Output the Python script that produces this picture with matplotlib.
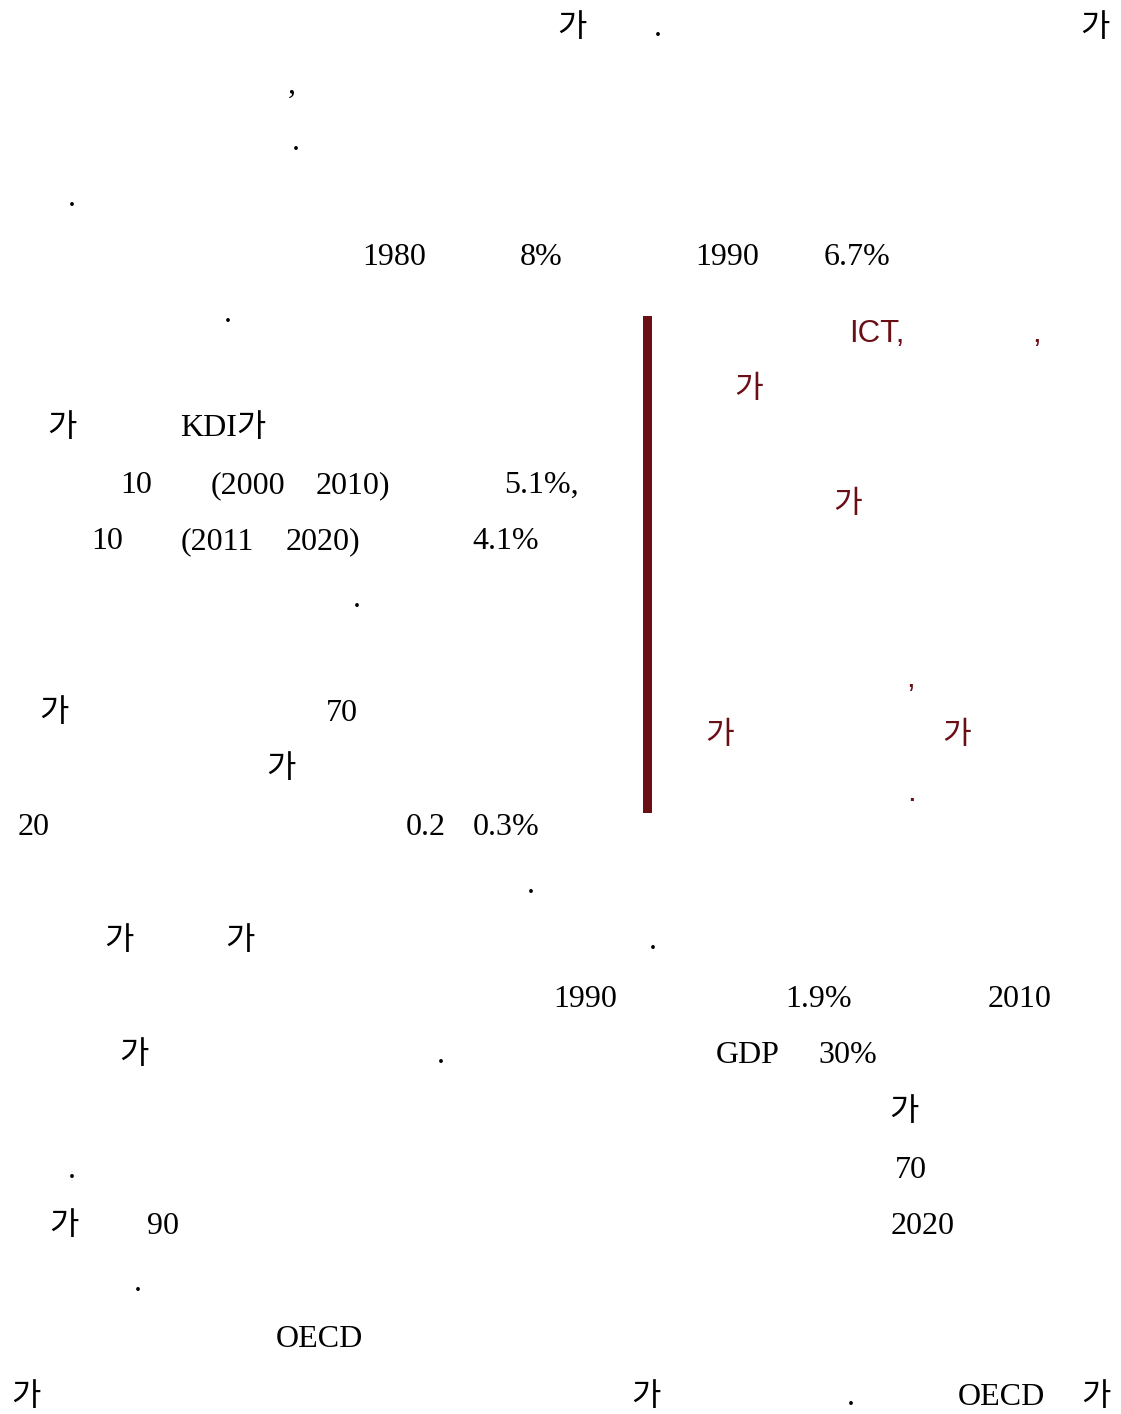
import matplotlib
matplotlib.use('Agg')
import matplotlib.pyplot as plt

# page text fragments (black, serif body text with korean fallback)
black_words = ['가', '.', '가',
               ',',
               '.',
               '.',
               '1980', '8%', '1990', '6.7%',
               '.',
               '가', 'KDI가',
               '10', '(2000', '2010)', '5.1%,',
               '10', '(2011', '2020)', '4.1%',
               '.',
               '가', '70',
               '가',
               '20', '0.2', '0.3%',
               '.',
               '가', '가', '.',
               '1990', '1.9%', '2010',
               '가', '.', 'GDP', '30%',
               '가',
               '.', '70',
               '가', '90', '2020',
               '.',
               'OECD',
               '가', '가', '.', 'OECD', '가']
black_x = [557, 654, 1080,
           288,
           292,
           68,
           362, 520, 695, 824,
           224,
           47, 180,
           120, 211, 316, 504,
           91, 181, 286, 472,
           353,
           39, 326,
           266,
           18, 406, 473,
           527,
           104, 225, 649,
           553, 785, 988,
           119, 437, 716, 818,
           889,
           68, 895,
           49, 147, 891,
           134,
           276,
           11, 631, 847, 958, 1081]
black_y = [36, 36, 36,
           93,
           150,
           206,
           265, 265, 265, 265,
           322,
           436, 436,
           493, 493, 493, 493,
           549, 549, 549, 549,
           607,
           721, 721,
           777,
           835, 835, 835,
           893,
           949, 949, 949,
           1007, 1007, 1007,
           1063, 1063, 1063, 1063,
           1120,
           1178, 1178,
           1234, 1234, 1234,
           1291,
           1347,
           1405, 1405, 1405, 1405, 1405]

# quote box fragments (dark red, sans)
red_words = ['ICT,', ',', '가', '가', ',', '가', '가', '.']
red_x = [849, 1032, 734, 833, 906, 705, 942, 907]
red_y = [342, 342, 398, 513, 687, 744, 744, 801]

bar_top = 316
bar_bottom = 813
bar_left = 643
bar_right = 652

red = '#6b0f17'

fig = plt.figure(figsize=(11.21, 14.14), dpi=100)
ax = fig.add_axes([0, 0, 1, 1])
ax.set_xlim(0, 1121)
ax.set_ylim(1414, 0)
ax.axis('off')

for w, x, y in zip(black_words, black_x, black_y):
    ax.text(x, y, w, fontsize=23, color='black', ha='left', va='baseline',
            family=['Liberation Serif', 'Noto Sans CJK KR'])

for w, x, y in zip(red_words, red_x, red_y):
    ax.text(x, y, w, fontsize=22.5, color=red, ha='left', va='baseline',
            family=['Liberation Sans', 'Noto Sans CJK KR'])

ax.bar([(bar_left + bar_right) / 2], [bar_bottom - bar_top], bottom=bar_top,
       width=bar_right - bar_left, color=red, linewidth=0)

fig.savefig('out.png', dpi=100, facecolor='white')
